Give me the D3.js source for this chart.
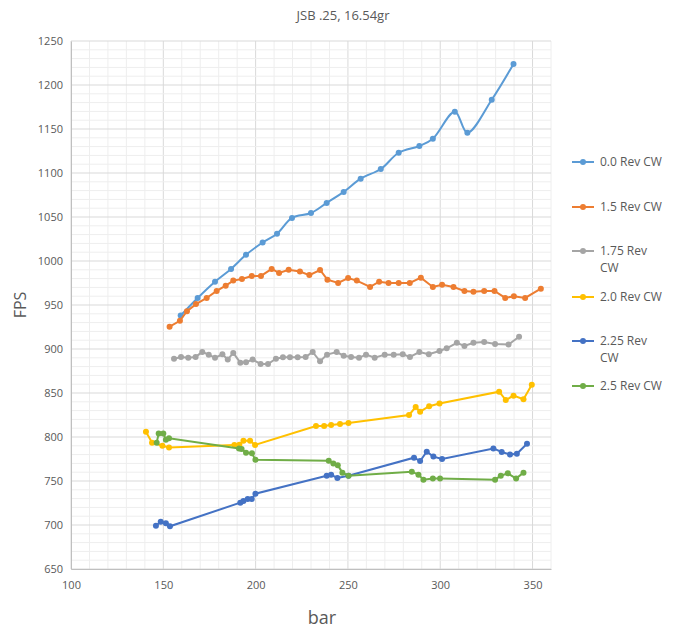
<!DOCTYPE html>
<html><head><meta charset="utf-8">
<script src="https://cdn.jsdelivr.net/npm/d3@7"></script>
<style>body{margin:0;background:#fff;font-family:"Segoe UI",Calibri,"Open Sans",sans-serif}</style>
</head><body><div class="mydiv"></div>
<script>
var width = 686, height = 632;

var xTicks = [100,150,200,250,300,350];
var yTicks = [650,700,750,800,850,900,950,1000,1050,1100,1150,1200,1250];
var seriesNames = ["0.0 Rev CW","1.5 Rev CW","1.75 Rev CW","2.0 Rev CW","2.25 Rev CW","2.5 Rev CW"];
var seriesColors = ["#5B9BD5","#ED7D31","#A5A5A5","#FFC000","#4472C4","#70AD47"];

var rev00 = [[159.4,938],[168.6,958],[178,976.5],[186.7,991],[194.8,1007],[203.8,1021],[211.6,1031],[219.7,1049],[230,1054.5],[238.5,1066],[247.7,1078.5],[256.9,1093.6],[267.8,1104.5],[277.5,1123],[288.7,1130.7],[296,1139],[307.9,1169.7],[314.7,1145.8],[327.9,1183.3],[339.7,1224]];
var rev15 = [[153.4,925.4],[159,932],[162.8,943],[167.7,951],[173.5,958],[178.9,966],[183.8,972],[187.9,977.7],[192.6,979.5],[197.9,983],[202.9,983],[208.7,991],[212.7,986.4],[217.9,990],[224,988],[229.1,984],[234.9,989.8],[238.9,978.8],[244.7,975],[250.1,980.7],[254.8,977.7],[262,970.5],[266.9,976.5],[272,975],[277.5,975],[283.5,975],[289.5,981],[296,970.5],[301,973],[307.2,970.5],[313.1,966],[318,965],[323.8,966],[329.4,966],[335.2,958],[339.9,960],[346,958],[354.5,968.6]];
var rev175 = [[155.8,889],[159.6,891],[163.5,890],[167.5,891],[171.1,896.6],[174.6,893.6],[178,890],[182,894],[184.9,888],[187.9,895.5],[191.7,884.5],[194.8,885],[198.4,888],[202.7,883],[206.7,883],[211,889],[214.8,890.5],[218.6,890.5],[222.8,890.5],[227.1,891],[230.9,896.6],[234.9,886],[238.7,893.6],[243.9,896.6],[247.7,892.4],[251.7,891],[256,890],[259.8,893.6],[264.5,890],[269.9,893.6],[274.8,893.6],[279.7,894],[283.6,891],[288.7,896.6],[293.8,894],[299.6,897.7],[303.5,900.8],[309,907],[313.1,903.4],[318,907],[323.8,908],[329.7,905.7],[337,905],[342.7,914]];
var rev20 = [[140.6,806],[143.9,793.6],[149.5,790],[153.1,788],[188.5,791],[191.2,791.3],[193.4,795.8],[197,795.8],[199.7,791],[232.7,812.5],[237.1,812.5],[240.9,813.6],[245.7,814.8],[250.3,816],[283.1,825],[286.7,834],[289.1,828.8],[294,835],[299.6,838],[331.9,851.5],[335.5,842],[339.7,847],[345.1,843],[349.6,859.5]];
var rev225 = [[146,699.2],[148.6,703.8],[151.4,702],[153.6,698.5],[191.7,725.4],[193.4,727.3],[195.7,729.5],[197.9,729.5],[199.9,735.6],[238.5,756],[240.9,757],[244.3,753.4],[250.3,756],[285.8,776.5],[289.1,772.7],[292.7,783.3],[296.3,777.7],[301,775],[328.8,787],[333.3,783],[337.8,780],[341.5,781],[347,792.4]];
var rev25 = [[146.4,793.6],[147.5,804],[150,804],[151.4,797],[153.1,798.5],[191,787],[192.4,786.4],[194.8,782.2],[198,781.4],[199.9,774.2],[239.6,773],[242.1,770],[244.5,768],[247,759.5],[250.3,756],[284.6,760.6],[288.2,757.2],[290.9,751.5],[296,752.7],[299.9,752.7],[329.7,751.5],[332.8,756],[336.6,758.7],[341.1,752.7],[345.1,759.5]];

var allSeries = [rev00, rev15, rev175, rev20, rev225, rev25];

var svg = d3.select(".mydiv").append("svg")
    .attr("width", width).attr("height", height);

var x = d3.scaleLinear().domain([100, 360]).range([71, 551]);
var y = d3.scaleLinear().domain([650, 1250]).range([569, 41]);

// minor grid
var grid = svg.append("g");
d3.range(100, 361, 10).forEach(function(v) {
  grid.append("line").attr("x1", x(v)).attr("x2", x(v)).attr("y1", y(650)).attr("y2", y(1250))
    .attr("stroke", v % 50 === 0 ? "#d9d9d9" : "#eeeeee").attr("stroke-width", 1);
});
d3.range(650, 1251, 10).forEach(function(v) {
  grid.append("line").attr("x1", x(100)).attr("x2", x(360)).attr("y1", y(v)).attr("y2", y(v))
    .attr("stroke", v % 50 === 0 ? "#d9d9d9" : "#eeeeee").attr("stroke-width", 1);
});

var xAxis = svg.append("g").attr("transform", "translate(0," + y(650) + ")")
  .call(d3.axisBottom(x).tickValues(xTicks).tickFormat(d3.format("d")).tickSize(0).tickPadding(12));
var yAxis = svg.append("g").attr("transform", "translate(" + x(100) + ",0)")
  .call(d3.axisLeft(y).tickValues(yTicks).tickFormat(d3.format("d")).tickSize(0).tickPadding(8));
[xAxis, yAxis].forEach(function(a) {
  a.select(".domain").attr("stroke", "#bfbfbf");
  a.selectAll("text").attr("fill", "#595959").style("font-size", "11px")
    .style("font-family", "'Open Sans',sans-serif");
});

var line = d3.line().x(function(d) { return x(d[0]); }).y(function(d) { return y(d[1]); });
var smooth = d3.line().curve(d3.curveCatmullRom.alpha(0.5))
  .x(function(d) { return x(d[0]); }).y(function(d) { return y(d[1]); });

allSeries.forEach(function(s, i) {
  svg.append("path").attr("d", i === 0 ? smooth(s) : line(s))
    .attr("fill", "none").attr("stroke", seriesColors[i]).attr("stroke-width", 2);
  svg.append("g").selectAll("circle").data(s).enter().append("circle")
    .attr("cx", function(d) { return x(d[0]); }).attr("cy", function(d) { return y(d[1]); })
    .attr("r", 3).attr("fill", seriesColors[i]);
});

svg.append("text").attr("x", 343).attr("y", 20).attr("text-anchor", "middle")
  .attr("fill", "#595959").style("font-size", "13px").style("font-family", "'Open Sans',sans-serif")
  .text("JSB .25, 16.54gr");
svg.append("text").attr("transform", "translate(26,305) rotate(-90)").attr("text-anchor", "middle")
  .attr("fill", "#595959").style("font-size", "16px").style("font-family", "'Open Sans',sans-serif")
  .text("FPS");
svg.append("text").attr("x", 322).attr("y", 624).attr("text-anchor", "middle")
  .attr("fill", "#595959").style("font-size", "18px").style("font-family", "'Open Sans',sans-serif")
  .text("bar");

// legend
var legY = [162, 207, 251, 297, 341, 386];
var legend = svg.append("g");
seriesNames.forEach(function(n, i) {
  legend.append("line").attr("x1", 572).attr("x2", 594).attr("y1", legY[i]).attr("y2", legY[i])
    .attr("stroke", seriesColors[i]).attr("stroke-width", 2);
  legend.append("circle").attr("cx", 583).attr("cy", legY[i]).attr("r", 3).attr("fill", seriesColors[i]);
  var parts = n.length > 10 ? [n.slice(0, n.length - 3), "CW"] : [n];
  var t = legend.append("text").attr("x", 600).attr("y", legY[i] + 4)
    .attr("fill", "#595959").style("font-size", "12px").style("font-family", "'Open Sans',sans-serif");
  parts.forEach(function(p, j) {
    t.append("tspan").attr("x", 600).attr("dy", j === 0 ? 0 : 17).text(p);
  });
});
</script></body></html>
